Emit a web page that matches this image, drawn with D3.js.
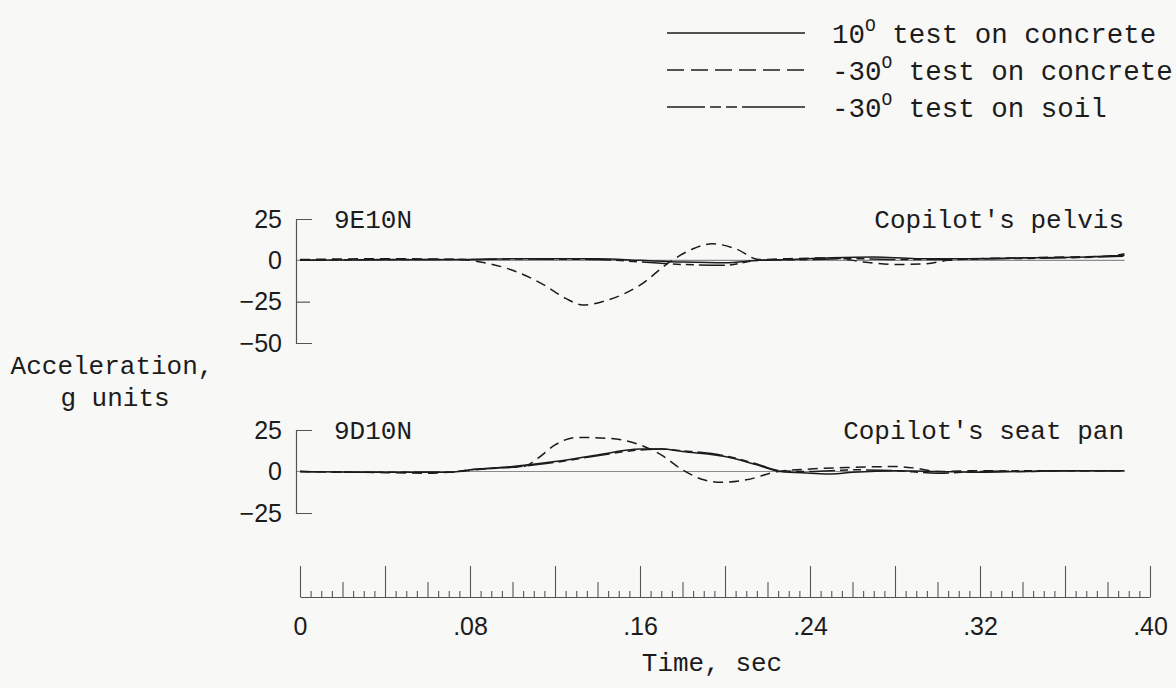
<!DOCTYPE html>
<html>
<head>
<meta charset="utf-8">
<script src="https://cdn.jsdelivr.net/npm/d3@7/dist/d3.min.js"></script>
<style>
  html, body { margin: 0; padding: 0; background: #f8f8f7; }
  svg { display: block; }
  .mono { font-family: "Liberation Mono", "DejaVu Sans Mono", monospace; fill: #1c1c1c; }
  .num { font-family: "Liberation Sans", "Noto Sans", sans-serif; fill: #1c1c1c; }
</style>
</head>
<body>
<svg id="chart" width="1176" height="688"></svg>
<script>
// Time ticks (sec) and labels for the shared time scale
const timeMajor = [0, 0.04, 0.08, 0.12, 0.16, 0.20, 0.24, 0.28, 0.32, 0.36, 0.40];
const timeLabels = [0, 0.08, 0.16, 0.24, 0.32, 0.40];
const timeLabelText = ["0", ".08", ".16", ".24", ".32", ".40"];

// Legend entries
const seriesNames = ["10° test on concrete", "-30° test on concrete", "-30° test on soil"];

// Copilot's pelvis (9E10N), acceleration in g
const pelvisTime10c   = [0, 0.04, 0.08, 0.10, 0.14, 0.16, 0.18, 0.20, 0.216, 0.23, 0.25, 0.27, 0.29, 0.31, 0.34, 0.37, 0.388];
const pelvisAcc10c    = [0, 0.3, 0.5, 1, 1, 0, -1, -1.5, 0, 0.5, 1.5, 2, 1, 1, 1.5, 2, 3];
const pelvisTime30c   = [0, 0.02, 0.04, 0.06, 0.075, 0.085, 0.10, 0.115, 0.125, 0.133, 0.145, 0.16, 0.174, 0.185, 0.194, 0.205, 0.216, 0.23, 0.25, 0.265, 0.28, 0.295, 0.305, 0.32, 0.34, 0.36, 0.38, 0.388];
const pelvisAcc30c    = [0.5, 0.8, 1, 0.8, 0.5, -1, -6, -15, -23, -27, -24, -15, -1, 7, 10, 7, 0.5, 1, 1.5, -1, -2.5, -2, 0, 1, 1.5, 2, 2.5, 4];
const pelvisTime30s   = [0, 0.04, 0.08, 0.10, 0.14, 0.16, 0.18, 0.20, 0.216, 0.24, 0.26, 0.28, 0.30, 0.33, 0.36, 0.388];
const pelvisAcc30s    = [0, 0.5, 0.5, 0.8, 0.5, -1, -2.5, -3, 0, 0.5, 1, 0.5, 0.5, 1, 1.5, 2.5];

// Copilot's seat pan (9D10N), acceleration in g
const seatTime10c = [0, 0.04, 0.07, 0.08, 0.10, 0.12, 0.14, 0.16, 0.17, 0.18, 0.20, 0.215, 0.226, 0.24, 0.25, 0.26, 0.28, 0.30, 0.32, 0.34, 0.36, 0.388];
const seatAcc10c  = [0, -0.5, -0.5, 1, 3, 6, 10, 13.5, 13.5, 12, 9, 4, 0, -1, -1.5, -0.5, 0.5, 0, -0.5, 0, 0.5, 0.5];
const seatTime30c = [0, 0.03, 0.06, 0.075, 0.09, 0.105, 0.112, 0.12, 0.13, 0.145, 0.16, 0.17, 0.18, 0.19, 0.198, 0.21, 0.225, 0.24, 0.26, 0.28, 0.29, 0.30, 0.32, 0.34, 0.36, 0.388];
const seatAcc30c  = [0, -0.5, -1, 0, 2, 3, 8, 16, 20.5, 20, 16, 10, 1, -5, -6.5, -5, 0, 1.5, 2.5, 3, 2, 0, 0.5, 0, 0.5, 0.5];
const seatTime30s = [0, 0.04, 0.07, 0.08, 0.10, 0.12, 0.14, 0.16, 0.17, 0.18, 0.20, 0.215, 0.226, 0.24, 0.26, 0.28, 0.30, 0.32, 0.35, 0.388];
const seatAcc30s  = [0, -0.5, -0.5, 1, 2.5, 5.5, 9.5, 13, 13.5, 12.5, 9.5, 4.5, 0.5, 0, 1, 0.5, -1, 0, 0.5, 0.5];

// Panel definitions
const panels = [
  { code: "9E10N", title: "Copilot's pelvis", domain: [-50, 25], range: [343, 219],
    labelTicks: [25, 0, -25, -50], innerTicks: [-25],
    series: [
      { t: pelvisTime10c, a: pelvisAcc10c, style: 0 },
      { t: pelvisTime30s, a: pelvisAcc30s, style: 2 },
      { t: pelvisTime30c, a: pelvisAcc30c, style: 1 }
    ] },
  { code: "9D10N", title: "Copilot's seat pan", domain: [-25, 25], range: [513, 430],
    labelTicks: [25, 0, -25], innerTicks: [],
    series: [
      { t: seatTime10c, a: seatAcc10c, style: 0 },
      { t: seatTime30s, a: seatAcc30s, style: 2 },
      { t: seatTime30c, a: seatAcc30c, style: 1 }
    ] }
];

const dashes = [null, "10,6", "26,5,8,5,8,5"];
const legendDashes = [null, "17,7", "38,5,11,5,11,5,63"];
const ink = "#1c1c1c";

const svg = d3.select("#chart");
const x = d3.scaleLinear().domain([0, 0.40]).range([300, 1150]);
const axisX = 296;
const tEnd = 0.388;

// Legend
const legend = svg.append("g");
seriesNames.forEach((name, i) => {
  const yy = 33 + i * 37;
  legend.append("line")
    .attr("x1", 667).attr("x2", 805).attr("y1", yy).attr("y2", yy)
    .attr("stroke", ink).attr("stroke-width", 1.6)
    .attr("stroke-dasharray", legendDashes[i]);
  const parts = name.split("°");
  const txt = legend.append("text").attr("class", "mono")
    .attr("x", 832).attr("y", yy + 10).attr("font-size", 27.5);
  txt.append("tspan").text(parts[0]);
  txt.append("tspan").attr("dy", -12).attr("font-size", 18).text("O");
  txt.append("tspan").attr("dy", 12).text(parts[1]);
});

// Y axis title
svg.append("text").attr("class", "mono").attr("font-size", 26)
  .attr("x", 112).attr("y", 374).attr("text-anchor", "middle").text("Acceleration,");
svg.append("text").attr("class", "mono").attr("font-size", 26)
  .attr("x", 115).attr("y", 406).attr("text-anchor", "middle").text("g units");

panels.forEach(p => {
  const y = d3.scaleLinear().domain(p.domain).range(p.range);
  const g = svg.append("g");

  // zero reference line
  g.append("line")
    .attr("x1", axisX).attr("x2", x(tEnd))
    .attr("y1", y(0)).attr("y2", y(0))
    .attr("stroke", "#8c8c8c").attr("stroke-width", 1.1);

  // bracket-style axis with outer ticks
  const bracket = g.append("g").attr("transform", `translate(${axisX},0)`)
    .call(d3.axisRight(y).tickValues(p.innerTicks).tickSizeInner(14).tickSizeOuter(16).tickFormat(""));
  bracket.selectAll("path, line").attr("stroke", "#555").attr("stroke-width", 1.2);

  // tick labels
  const labels = g.append("g").attr("transform", `translate(${axisX},0)`)
    .call(d3.axisLeft(y).tickValues(p.labelTicks).tickSize(0).tickPadding(14).tickFormat(d3.format("d")));
  labels.select(".domain").remove();
  labels.selectAll("text").attr("class", "num").attr("font-size", 25).attr("fill", ink);

  // panel captions
  g.append("text").attr("class", "mono").attr("font-size", 26)
    .attr("x", 334).attr("y", p.range[1] + 9).text(p.code);
  g.append("text").attr("class", "mono").attr("font-size", 26)
    .attr("x", 1124).attr("y", p.range[1] + 9).attr("text-anchor", "end").text(p.title);

  // curves
  const line = d3.line().curve(d3.curveMonotoneX)
    .x(d => x(d[0])).y(d => y(d[1]));
  p.series.forEach(s => {
    const pts = s.t.map((t, i) => [t, s.a[i]]);
    g.append("path").datum(pts)
      .attr("d", line)
      .attr("fill", "none")
      .attr("stroke", ink)
      .attr("stroke-width", 1.5)
      .attr("stroke-dasharray", dashes[s.style]);
  });
});

// Time axis: ticks rise from the baseline
const axisY = 597;
const minorTicks = d3.range(0, 0.4001, 0.005).filter(v => Math.abs(v / 0.02 - Math.round(v / 0.02)) > 1e-6);
const midTicks = d3.range(0.02, 0.4, 0.04);

function tickAxis(values, size) {
  const a = svg.append("g").attr("transform", `translate(0,${axisY})`)
    .call(d3.axisTop(x).tickValues(values).tickSize(size).tickSizeOuter(0).tickFormat(""));
  a.selectAll("path, line").attr("stroke", "#555").attr("stroke-width", 1.1);
  return a;
}
tickAxis(timeMajor, 31);
tickAxis(midTicks, 15).select(".domain").remove();
tickAxis(minorTicks, 6).select(".domain").remove();

const tl = svg.append("g").attr("transform", `translate(0,${axisY})`)
  .call(d3.axisBottom(x).tickValues(timeLabels).tickSize(0).tickPadding(20)
    .tickFormat((d, i) => timeLabelText[i]));
tl.select(".domain").remove();
tl.selectAll("text").attr("class", "num").attr("font-size", 25).attr("fill", ink);

svg.append("text").attr("class", "mono").attr("font-size", 26)
  .attr("x", 712).attr("y", 671).attr("text-anchor", "middle").text("Time, sec");
</script>
</body>
</html>
